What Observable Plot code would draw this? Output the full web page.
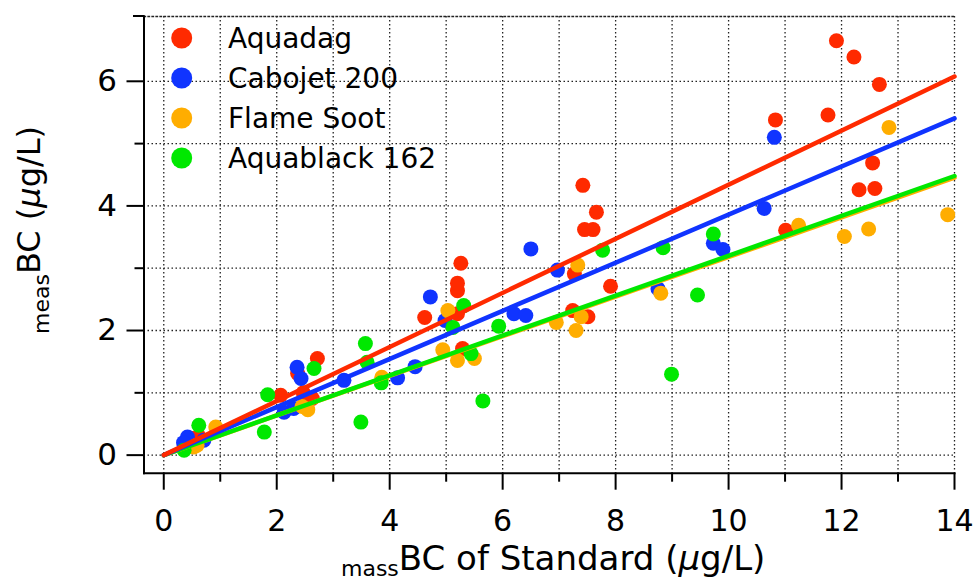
<!DOCTYPE html>
<html><head><meta charset="utf-8">
<script src="https://cdn.jsdelivr.net/npm/d3@7"></script>
<script src="https://cdn.jsdelivr.net/npm/@observablehq/plot@0.6"></script>
<style>body{margin:0;background:#fff;} #chart{width:980px;height:582px;overflow:hidden}</style>
</head><body><div id="chart"></div>
<script>
const seriesNames = ["Aquadag", "Cabojet 200", "Flame Soot", "Aquablack 162"];
const seriesColors = ["#ff2a00", "#1034ff", "#ffad00", "#00e800"];

const aquadagX = [0.48, 0.62, 2.07, 2.37, 2.63, 2.72, 2.47, 4.62, 5.20, 5.20, 5.20, 5.26, 5.29, 7.27, 7.24, 7.51, 7.42, 7.66, 7.45, 7.60, 7.91, 10.83, 11.01, 11.76, 11.91, 12.22, 12.67, 12.55, 12.31, 12.59];
const aquadagY = [0.27, 0.30, 0.96, 1.31, 0.91, 1.55, 1.00, 2.21, 2.27, 2.64, 2.76, 3.08, 1.71, 2.91, 2.32, 2.22, 4.33, 3.90, 3.62, 3.62, 2.71, 5.38, 3.61, 5.46, 6.65, 6.39, 5.95, 4.69, 4.26, 4.28];

const cabojetX = [0.42, 0.71, 0.35, 2.13, 2.36, 2.43, 2.30, 3.19, 4.14, 4.45, 4.72, 4.98, 6.20, 6.41, 6.50, 6.97, 8.75, 9.73, 9.90, 10.63, 10.81];
const cabojetY = [0.29, 0.24, 0.20, 0.69, 1.41, 1.23, 0.75, 1.20, 1.24, 1.42, 2.54, 2.16, 2.27, 2.24, 3.31, 2.97, 2.67, 3.40, 3.30, 3.96, 5.10];

const flameX = [0.53, 0.59, 0.92, 2.55, 2.45, 3.86, 4.94, 5.03, 5.20, 5.50, 6.95, 7.30, 7.33, 7.39, 8.80, 11.24, 12.05, 12.48, 12.84, 13.88];
const flameY = [0.13, 0.16, 0.45, 0.73, 0.78, 1.25, 1.69, 2.32, 1.52, 1.55, 2.13, 2.00, 3.05, 2.22, 2.60, 3.69, 3.51, 3.63, 5.26, 3.86];

const aquablackX = [0.36, 0.62, 1.78, 1.84, 2.66, 3.49, 3.57, 3.60, 3.85, 5.12, 5.31, 5.44, 5.65, 5.93, 7.77, 8.84, 8.99, 9.45, 9.73];
const aquablackY = [0.08, 0.48, 0.37, 0.97, 1.39, 0.53, 1.79, 1.49, 1.16, 2.05, 2.40, 1.63, 0.87, 2.07, 3.29, 3.33, 1.30, 2.57, 3.55];

const fitSlopes = [0.434, 0.386, 0.318, 0.320];
const fitXRange = [0, 14];

const xMajorTicks = [0, 2, 4, 6, 8, 10, 12, 14];
const xMinorTicks = [1, 3, 5, 7, 9, 11, 13];
const yMajorTicks = [0, 2, 4, 6];
const yMinorTicks = [1, 3, 5];
const xGridValues = [0, 1, 2, 3, 4, 5, 6, 7, 8, 9, 10, 11, 12, 13, 14];
const yGridValues = [0, 1, 2, 3, 4, 5, 6];

const seriesX = [aquadagX, cabojetX, flameX, aquablackX];
const seriesY = [aquadagY, cabojetY, flameY, aquablackY];

const points = [];
seriesNames.forEach((name, i) => {
  seriesX[i].forEach((x, j) => points.push({series: name, x, y: seriesY[i][j]}));
});
const fitOrder = [2, 3, 1, 0];
const fits = [];
fitOrder.forEach(i => {
  fitXRange.forEach(x => fits.push({series: seriesNames[i], x, y: fitSlopes[i] * x}));
});

const dotted = {stroke: "#222", strokeOpacity: 1, strokeWidth: 1.3, strokeDasharray: "1.5,2.5"};
const font = "'DejaVu Sans', Verdana, sans-serif";

const plot = Plot.plot({
  width: 980, height: 582,
  marginLeft: 143.5, marginRight: 26, marginTop: 16, marginBottom: 109.3,
  x: {domain: [-0.35, 14]},
  y: {domain: [-0.29, 7.04]},
  color: {domain: seriesNames, range: seriesColors},
  style: {fontFamily: font, background: "white", color: "black", overflow: "visible"},
  marks: [
    Plot.gridX(xGridValues, dotted),
    Plot.gridY(yGridValues, dotted),
    Plot.frame({anchor: "top", ...dotted}),
    Plot.dot(points, {x: "x", y: "y", fill: "series", r: 7.5, stroke: null}),
    Plot.line(fits, {x: "x", y: "y", z: "series", stroke: "series", strokeWidth: 4.5}),
    Plot.axisX(xMajorTicks, {tickSize: 17, tickPadding: 19, fontSize: 30, strokeWidth: 2, stroke: "black", label: null, tickFormat: d => String(d)}),
    Plot.axisX(xMinorTicks, {tickSize: 9, strokeWidth: 2, stroke: "black", label: null, tickFormat: () => ""}),
    Plot.axisY(yMajorTicks, {tickSize: 17, tickPadding: 10, fontSize: 31, strokeWidth: 2, stroke: "black", label: null, tickFormat: d => String(d)}),
    Plot.axisY(yMinorTicks, {tickSize: 9, strokeWidth: 2, stroke: "black", label: null, tickFormat: () => ""}),
    Plot.frame({anchor: "left", stroke: "black", strokeWidth: 2}),
    Plot.frame({anchor: "bottom", stroke: "black", strokeWidth: 2})
  ]
});

document.getElementById("chart").appendChild(plot);
const svg = d3.select(plot);

// top cap of the y axis
svg.append("line").attr("x1", 133).attr("x2", 144.5).attr("y1", 16).attr("y2", 16)
  .attr("stroke", "black").attr("stroke-width", 2);

// legend
const legend = svg.append("g").attr("font-family", font).attr("font-size", 28).attr("text-anchor", "start");
seriesNames.forEach((name, i) => {
  const cy = 38 + i * 40;
  legend.append("circle").attr("cx", 181.7).attr("cy", cy).attr("r", 10.5).attr("fill", seriesColors[i]);
  legend.append("text").attr("x", 228).attr("y", cy + 10).attr("fill", "black").text(name);
});

// x-axis title
const xt = svg.append("text").attr("font-family", font).attr("fill", "black").attr("text-anchor", "start")
  .attr("x", 341).attr("y", 570).attr("font-size", 34);
xt.append("tspan").attr("font-size", 22).attr("dy", 6).text("mass");
xt.append("tspan").attr("dy", -6).text("BC of Standard (");
xt.append("tspan").attr("font-style", "italic").text("μ");
xt.append("tspan").text("g/L)");

// y-axis title
const yt = svg.append("text").attr("font-family", font).attr("fill", "black").attr("text-anchor", "start")
  .attr("transform", "translate(40,334) rotate(-90)").attr("font-size", 32);
yt.append("tspan").attr("font-size", 22).attr("dy", 9).text("meas");
yt.append("tspan").attr("dy", -9).text("BC (");
yt.append("tspan").attr("font-style", "italic").text("μ");
yt.append("tspan").text("g/L)");
</script>
</body></html>
